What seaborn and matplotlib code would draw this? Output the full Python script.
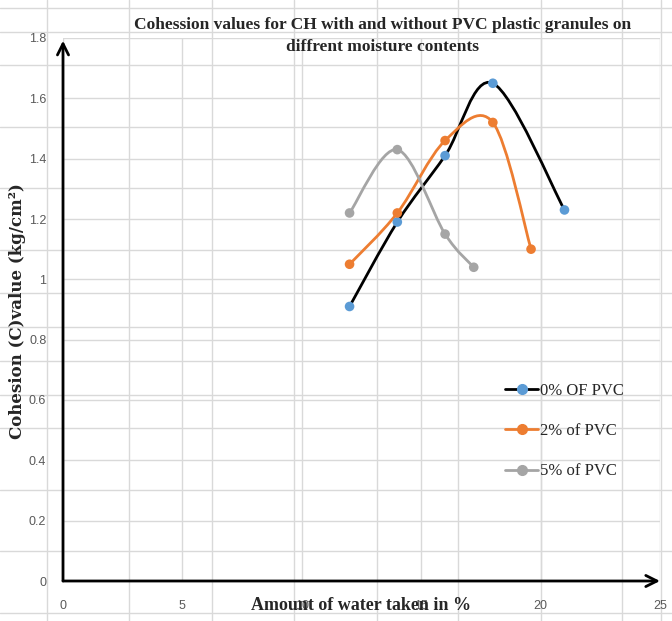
import numpy as np
import pandas as pd
import matplotlib
matplotlib.use('Agg')
import matplotlib.pyplot as plt
import seaborn as sns
from matplotlib.path import Path
from matplotlib.patches import PathPatch
from matplotlib.lines import Line2D

# dados
water_0 = [12, 14, 16, 18, 21]
cohesion_0 = [0.91, 1.19, 1.41, 1.65, 1.23]
water_2 = [12, 14, 16, 18, 19.6]
cohesion_2 = [1.05, 1.22, 1.46, 1.52, 1.10]
water_5 = [12, 14, 16, 17.2]
cohesion_5 = [1.22, 1.43, 1.15, 1.04]
series_names = ['0% OF PVC', '2% of PVC', '5% of PVC']

x_ticks = [0, 5, 10, 15, 20, 25]
y_ticks = [0, 0.2, 0.4, 0.6, 0.8, 1.0, 1.2, 1.4, 1.6, 1.8]
y_tick_labels = ['0', '0.2', '0.4', '0.6', '0.8', '1', '1.2', '1.4', '1.6', '1.8']

line_colors = ['#000000', '#ED7D31', '#A5A5A5']
marker_colors = ['#5B9BD5', '#ED7D31', '#A5A5A5']

df = pd.concat([
    pd.DataFrame({'water': water_0, 'cohesion': cohesion_0, 'series': series_names[0]}),
    pd.DataFrame({'water': water_2, 'cohesion': cohesion_2, 'series': series_names[1]}),
    pd.DataFrame({'water': water_5, 'cohesion': cohesion_5, 'series': series_names[2]}),
], ignore_index=True)

sns.set_style('white')
serif = ['Liberation Serif', 'DejaVu Serif']
narrow = ['Liberation Sans Narrow', 'Liberation Sans', 'DejaVu Sans']

W, H = 672, 621
fig = plt.figure(figsize=(W / 100, H / 100), dpi=100)
fig.patch.set_facecolor('white')

# grade da planilha por tras do grafico
grid_c = '#d9d9d9'
for xp in [47, 129, 212, 294, 377, 458, 541, 622, 661]:
    fig.add_artist(Line2D([xp / W, xp / W], [0, 1], transform=fig.transFigure,
                          color=grid_c, lw=1, zorder=-5))
for yp in [8, 32, 65, 127, 188, 250, 293, 327, 361, 395, 428, 490, 551, 613]:
    fig.add_artist(Line2D([0, 1], [1 - yp / H, 1 - yp / H], transform=fig.transFigure,
                          color=grid_c, lw=1, zorder=-5))

ax = fig.add_axes([63 / W, 1 - 581 / H, (660 - 63) / W, (581 - 38) / H])
ax.set_facecolor('none')


def smooth_path(xs, ys):
    p = np.column_stack([xs, ys]).astype(float)
    pts = np.vstack([p[0], p, p[-1]])
    verts = [p[0]]
    codes = [Path.MOVETO]
    for i in range(1, len(pts) - 2):
        p0, p1, p2, p3 = pts[i - 1], pts[i], pts[i + 1], pts[i + 2]
        verts += [p1 + (p2 - p0) / 6, p2 - (p3 - p1) / 6, p2]
        codes += [Path.CURVE4] * 3
    return Path(verts, codes)


for name, lc in zip(series_names, line_colors):
    sub = df[df['series'] == name]
    ax.add_patch(PathPatch(smooth_path(sub['water'], sub['cohesion']), facecolor='none',
                           edgecolor=lc, lw=2, zorder=3, capstyle='round'))

sns.scatterplot(data=df, x='water', y='cohesion', hue='series', palette=marker_colors,
                s=48, edgecolor='none', zorder=4, legend=False, ax=ax)

ax.set_xlim(0, 25)
ax.set_ylim(0, 1.8)
ax.set_xticks(x_ticks)
ax.set_xticklabels([str(t) for t in x_ticks])
ax.set_yticks(y_ticks)
ax.set_yticklabels(y_tick_labels)
ax.grid(True, color=grid_c, lw=1)
ax.set_axisbelow(True)
for s in ax.spines.values():
    s.set_visible(False)
ax.tick_params(length=0, labelcolor='#595959', labelsize=9, pad=12)
ax.tick_params(axis='x', pad=14)
for lab in ax.get_xticklabels() + ax.get_yticklabels():
    lab.set_family(narrow)
ax.set_xlabel('')
ax.set_ylabel('')

# eixos com setas
arrow = dict(arrowstyle='->', lw=2, color='black', mutation_scale=20, shrinkA=0, shrinkB=0)
ax.annotate('', xy=(0, 0.995), xytext=(0, 0), xycoords='axes fraction',
            arrowprops=arrow, annotation_clip=False)
ax.annotate('', xy=(1.0, 0), xytext=(0, 0), xycoords='axes fraction',
            arrowprops=arrow, annotation_clip=False)

fig.text(383 / W, 1 - 36 / H,
         'Cohession values for CH with and without PVC plastic granules on\ndiffrent moisture contents',
         ha='center', va='center', fontsize=12.5, fontweight='bold', family=serif, linespacing=1.45)
fig.text(361 / W, 1 - 606 / H, 'Amount of water taken in %', ha='center', va='center',
         fontsize=13, fontweight='bold', family=serif)
fig.text(18 / W, 1 - 311 / H, 'Cohesion (C)value (kg/cm²)', ha='center', va='center',
         rotation=90, fontsize=12, fontweight='bold', family=['DejaVu Serif'])

handles = [Line2D([], [], color=lc, lw=2, marker='o', markersize=7,
                  markerfacecolor=mc, markeredgecolor=mc)
           for lc, mc in zip(line_colors, marker_colors)]
fig.legend(handles, series_names, loc='upper left', bbox_to_anchor=(490 / W, 1 - 368 / H),
           frameon=False, handlelength=2.0, handletextpad=0.1, labelspacing=1.45,
           prop={'family': serif, 'size': 12})

fig.savefig('out.png', dpi=100)
